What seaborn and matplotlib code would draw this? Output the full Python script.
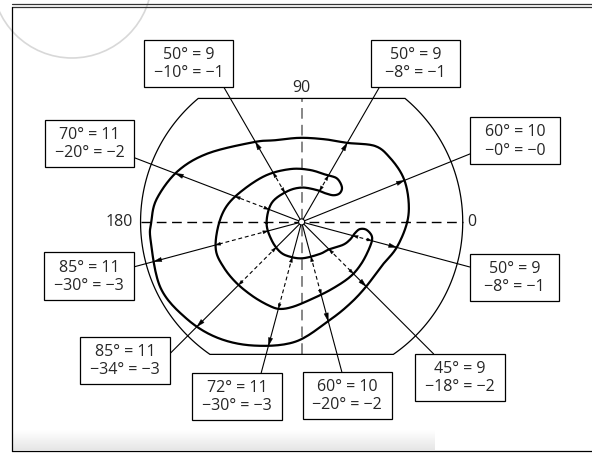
import numpy as np
import matplotlib
matplotlib.use("Agg")
import matplotlib.pyplot as plt
import seaborn as sns
from matplotlib.patches import Rectangle, Polygon, Circle

# outer isopter (meridian angle in deg, eccentricity in deg)
outer_ang = [0, 12, 24, 36, 46, 60, 74, 91, 108, 121, 144, 158, 171, 180, 187, 205, 220, 234, 249, 267, 286, 301, 315, 331, 345]
outer_ecc = [59, 61, 62, 61, 59, 51, 48, 47, 48, 52, 65, 75, 82, 84, 85, 87, 84, 80, 74, 67, 57, 53, 51, 51, 55]

# inner C-shaped isopter (inner ring + middle ring joined by the two hooks)
c_ang = [182, 148, 116, 90, 65, 51, 40, 37, 41, 51, 62, 81, 102, 127, 151, 168, 183, 198, 210, 223, 237,
         249, 256, 264, 276, 293, 311, 325, 340, 348, 353, 353, 348, 340, 331, 316, 300, 272, 251, 234, 211]
c_ecc = [19.6, 19.8, 18.9, 19.2, 19.7, 20.7, 23.2, 26.7, 29.8, 31.3, 29.7, 29.4, 30.2, 32.7, 37.2, 42.8, 46.7,
         50.4, 50.4, 49.9, 49.7, 50.2, 50.1, 47.7, 43.8, 41.2, 40.9, 40.7, 40.6, 40.2, 36.6, 32.8, 30.4, 28.8,
         26.4, 21.8, 20.6, 20.3, 20.5, 20.6, 19.6]

# meridians with their label boxes
mer_ang = [120, 60, 159, 22, 195, 345, 225, 255, 285, 315]
box_x = [-63.2, 63.5, -118.5, 119.3, -118.8, 118.9, -98.7, -36.1, 25.5, 88.6]
box_y = [88.5, 88.5, 43.9, 45.3, -30.2, -31.0, -77.4, -97.5, -96.9, -86.9]
line1 = ["50° = 9", "50° = 9", "70° = 11", "60° = 10", "85° = 11", "50° = 9", "85° = 11", "72° = 11", "60° = 10", "45° = 9"]
line2 = ["−10° = −1", "−8° = −1", "−20° = −2", "−0° = −0", "−30° = −3", "−8° = −1", "−34° = −3", "−30° = −3", "−20° = −2", "−18° = −2"]

axis_labels = ["0", "90", "180"]

FIELD_R = 90
TOP_CUT = 69
BOT_CUT = -74
BOX_W, BOX_H = 50, 26.3


def to_xy(ang, ecc):
    a = np.radians(ang)
    return np.asarray(ecc) * np.cos(a), np.asarray(ecc) * np.sin(a)


def smooth_closed(x, y, n=14):
    P = np.column_stack([x, y])
    N = len(P)
    t = np.linspace(0, 1, n, endpoint=False)[:, None]
    out = []
    for i in range(N):
        p0, p1, p2, p3 = P[(i - 1) % N], P[i], P[(i + 1) % N], P[(i + 2) % N]
        out.append(0.5 * (2 * p1 + (-p0 + p2) * t + (2 * p0 - 5 * p1 + 4 * p2 - p3) * t ** 2
                          + (-p0 + 3 * p1 - 3 * p2 + p3) * t ** 3))
    out = np.vstack(out)
    return np.vstack([out, out[:1]])


def ray_hits(curve, ang):
    d = np.array([np.cos(np.radians(ang)), np.sin(np.radians(ang))])
    hits = []
    for a, b in zip(curve[:-1], curve[1:]):
        e = b - a
        den = d[0] * e[1] - d[1] * e[0]
        if abs(den) < 1e-12:
            continue
        t = (a[0] * e[1] - a[1] * e[0]) / den
        s = (a[0] * d[1] - a[1] * d[0]) / den
        if t > 0 and 0 <= s < 1:
            hits.append(t)
    return sorted(hits)


def ray_box(ang, cx, cy):
    d = np.array([np.cos(np.radians(ang)), np.sin(np.radians(ang))])
    tmin = 0
    for k, (c, h) in enumerate([(cx, BOX_W / 2), (cy, BOX_H / 2)]):
        if abs(d[k]) < 1e-12:
            continue
        t1, t2 = (c - h) / d[k], (c + h) / d[k]
        tmin = max(tmin, min(t1, t2))
    return tmin


def arrowhead(ax, ang, r, direction, length, half):
    d = np.array([np.cos(np.radians(ang)), np.sin(np.radians(ang))]) * direction
    n = np.array([-d[1], d[0]])
    tip = np.array([np.cos(np.radians(ang)), np.sin(np.radians(ang))]) * r
    base = tip - d * length
    ax.add_patch(Polygon([tip, base + n * half, base - n * half], closed=True,
                         fc="black", ec="black", lw=0.3, zorder=4))


sns.set_style("white")
plt.rcParams["font.family"] = ["Open Sans", "DejaVu Sans"]

fig = plt.figure(figsize=(5.92, 4.53), dpi=100)
ax = fig.add_axes([0, 0, 1, 1])
ax.set_xlim(-168.5, 162.2)
ax.set_ylim(-129.1, 124.0)
ax.set_aspect("equal")
ax.axis("off")

# page frame
def px(x, y):
    return x / 592, 1 - y / 453

for yy in (4, 7.3):
    fig.add_artist(plt.Line2D(*zip(px(12, yy), px(592, yy)), color="#333333", lw=0.9))
fig.add_artist(plt.Line2D(*zip(px(11.7, 7), px(11.7, 451)), color="black", lw=0.9))
fig.add_artist(plt.Line2D(*zip(px(11.7, 450.6), px(592, 450.6)), color="black", lw=0.9))
gax = fig.add_axes([12 / 592, (453 - 450) / 453, (435 - 12) / 592, 20 / 453])
gax.imshow(np.linspace(1.0, 0.9, 50)[:, None], cmap="gray", vmin=0, vmax=1, aspect="auto")
gax.axis("off")
ax.add_patch(Circle((-128.3, 136.3), 44.7, fill=False, ec="#d8d8d8", lw=1.2, clip_on=False))

# field boundary
tt = np.degrees(np.arcsin(TOP_CUT / FIELD_R))
tb = np.degrees(np.arcsin(-BOT_CUT / FIELD_R))
left = np.radians(np.linspace(180 - tt, 180 + tb, 80))
right = np.radians(np.linspace(360 - tb, 360 + tt, 80))
bx = np.concatenate([FIELD_R * np.cos(left), FIELD_R * np.cos(right)])
by = np.concatenate([FIELD_R * np.sin(left), FIELD_R * np.sin(right)])
ax.add_patch(Polygon(np.column_stack([bx, by]), closed=True, fill=False, ec="black", lw=0.9, zorder=2))

# axes
ax.plot([-FIELD_R, FIELD_R], [0, 0], color="black", lw=1.0, ls=(0, (7, 4)), zorder=1)
ax.plot([0, 0], [BOT_CUT, TOP_CUT], color="#666666", lw=1.1, ls=(0, (7, 4)), zorder=1)
ax.text(95.0, 0, axis_labels[0], ha="center", va="center", fontsize=11.5)
ax.text(0, 74.9, axis_labels[1], ha="center", va="center", fontsize=11.5)
ax.text(-94.3, 0, axis_labels[2], ha="right", va="center", fontsize=11.5)

# isopters
outer = smooth_closed(*to_xy(outer_ang, outer_ecc))
inner = smooth_closed(*to_xy(c_ang, c_ecc))
for crv in (outer, inner):
    sns.lineplot(x=crv[:, 0], y=crv[:, 1], sort=False, estimator=None, color="black", lw=1.6, ax=ax, zorder=2)

# meridians
for ang, cx, cy, t1, t2 in zip(mer_ang, box_x, box_y, line1, line2):
    d = np.array([np.cos(np.radians(ang)), np.sin(np.radians(ang))])
    r_end = ray_box(ang, cx, cy)
    hits = ray_hits(inner, ang)
    r_out = ray_hits(outer, ang)[0]
    pts = [0] + hits + [r_end]
    for k in range(len(pts) - 1):
        a, b = pts[k], pts[k + 1]
        dashed = k % 2 == 1
        ax.plot([a * d[0], b * d[0]], [a * d[1], b * d[1]], color="black", lw=0.8,
                ls=(0, (3.5, 2.5)) if dashed else "-", zorder=3)
        if dashed:
            arrowhead(ax, ang, a, -1, 2.8, 0.85)
            arrowhead(ax, ang, b, 1, 2.8, 0.85)
    arrowhead(ax, ang, r_out, 1, 4.5, 1.2)
    ax.add_patch(Rectangle((cx - BOX_W / 2, cy - BOX_H / 2), BOX_W, BOX_H, fc="white", ec="black", lw=0.9, zorder=5))
    ax.text(cx, cy + 4.7, t1, ha="center", va="center", fontsize=11.5, zorder=6)
    ax.text(cx, cy - 5.4, t2, ha="center", va="center", fontsize=11.5, zorder=6)

ax.add_patch(Circle((0, 0), 1.7, fc="white", ec="black", lw=0.8, zorder=7))

fig.savefig("out.png", dpi=100)
